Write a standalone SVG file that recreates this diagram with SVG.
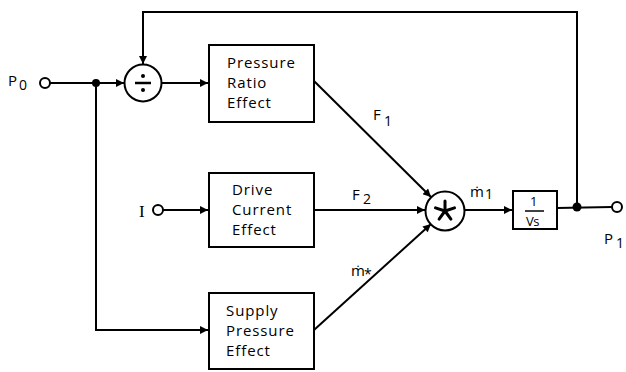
<svg xmlns="http://www.w3.org/2000/svg" width="626" height="372" viewBox="0 0 626 372">
<defs>
<marker id="ah" viewBox="0 0 10 10" refX="10" refY="5" markerWidth="9" markerHeight="8" markerUnits="userSpaceOnUse" orient="auto">
<path d="M0,0 L10,5 L0,10 z" fill="#000"/>
</marker>
<style>
.ln{fill:none;stroke:#000;stroke-width:2}
.ar{fill:none;stroke:#000;stroke-width:2;marker-end:url(#ah)}
.bx{fill:#fff;stroke:#000;stroke-width:2}
.t{font-family:"Open Sans","Liberation Sans",sans-serif;font-size:15px;letter-spacing:0.9px;fill:#000}
.lb{font-family:"Open Sans","Liberation Sans",sans-serif;font-size:15px;fill:#000}
.sub{font-family:"Open Sans","Liberation Sans",sans-serif;font-size:14px;fill:#000}
.port{fill:#fff;stroke:#000;stroke-width:2}
</style>
</defs>
<g id="connectors">
<line class="ln" x1="50" y1="83" x2="96" y2="83"/>
<line class="ar" x1="96" y1="83" x2="124" y2="83"/>
<polyline class="ln" points="96,83 96,330 200,330"/>
<line class="ar" x1="180" y1="330" x2="208" y2="330"/>
<line class="ar" x1="162" y1="83" x2="208" y2="83"/>
<polyline class="ln" points="577,207 577,12 143,12 143,56"/>
<line class="ar" x1="143" y1="40" x2="143" y2="64"/>
<line class="ar" x1="163" y1="210" x2="208" y2="210"/>
<line class="ar" x1="314" y1="81" x2="431" y2="197"/>
<line class="ar" x1="314" y1="210" x2="425" y2="210"/>
<line class="ar" x1="314" y1="330" x2="431" y2="224"/>
<line class="ar" x1="464" y1="210" x2="512" y2="210"/>
<line class="ln" x1="557" y1="208" x2="612" y2="207"/>
</g>
<g id="P0">
<text class="lb" x="8" y="86">P</text>
<text class="sub" x="19" y="90">0</text>
<circle class="port" cx="45" cy="83" r="5"/>
</g>
<g id="junction1"><circle cx="96" cy="83" r="4" fill="#000"/></g>
<g id="divide">
<circle cx="143" cy="83" r="18.5" fill="#fff" stroke="#000" stroke-width="2"/>
<line x1="135" y1="83" x2="151" y2="83" stroke="#000" stroke-width="2.5"/>
<circle cx="143" cy="76" r="2" fill="#000"/>
<circle cx="143" cy="90" r="2" fill="#000"/>
</g>
<g id="pressure-ratio">
<rect class="bx" x="209" y="45" width="105" height="77"/>
<text class="t" x="227" y="68">Pressure</text>
<text class="t" x="227" y="88">Ratio</text>
<text class="t" x="227" y="108">Effect</text>
</g>
<g id="I">
<text x="139" y="217" style="font-family:'Liberation Serif',serif;font-size:17px">I</text>
<circle class="port" cx="158" cy="210" r="5"/>
</g>
<g id="drive-current">
<rect class="bx" x="209" y="173" width="105" height="74"/>
<text class="t" x="232" y="195">Drive</text>
<text class="t" x="232" y="215">Current</text>
<text class="t" x="232" y="235">Effect</text>
</g>
<g id="supply-pressure">
<rect class="bx" x="209" y="293" width="105" height="76"/>
<text class="t" x="226" y="316">Supply</text>
<text class="t" x="226" y="336">Pressure</text>
<text class="t" x="226" y="356">Effect</text>
</g>
<g id="labels">
<text class="lb" x="373" y="120">F</text>
<text class="sub" x="384" y="126">1</text>
<text class="lb" x="352" y="200">F</text>
<text class="sub" x="363" y="204">2</text>
<text class="lb" x="470" y="197">ṁ</text>
<text class="sub" x="485" y="199">1</text>
<text class="lb" x="351" y="276">ṁ</text>
<text class="sub" x="364" y="279">*</text>
</g>
<g id="multiply">
<circle cx="445" cy="211" r="19.5" fill="#fff" stroke="#000" stroke-width="2"/>
<g stroke="#000" stroke-width="3" stroke-linecap="round">
<line x1="445" y1="211" x2="445" y2="201"/>
<line x1="445" y1="211" x2="454.5" y2="207.9"/>
<line x1="445" y1="211" x2="450.9" y2="219.1"/>
<line x1="445" y1="211" x2="439.1" y2="219.1"/>
<line x1="445" y1="211" x2="435.5" y2="207.9"/>
</g>
</g>
<g id="integrator">
<rect class="bx" x="513" y="191" width="44" height="38"/>
<text class="lb" x="530" y="206" style="font-size:13px">1</text>
<line x1="525" y1="211" x2="544" y2="211" stroke="#000" stroke-width="1.5"/>
<text class="lb" x="526" y="226" style="font-size:13px;letter-spacing:-0.5px">Vs</text>
</g>
<g id="junction2"><circle cx="577" cy="207" r="4.5" fill="#000"/></g>
<g id="P1">
<circle class="port" cx="617" cy="207" r="5"/>
<text class="lb" x="604" y="244">P</text>
<text class="sub" x="616" y="248">1</text>
</g>
</svg>
